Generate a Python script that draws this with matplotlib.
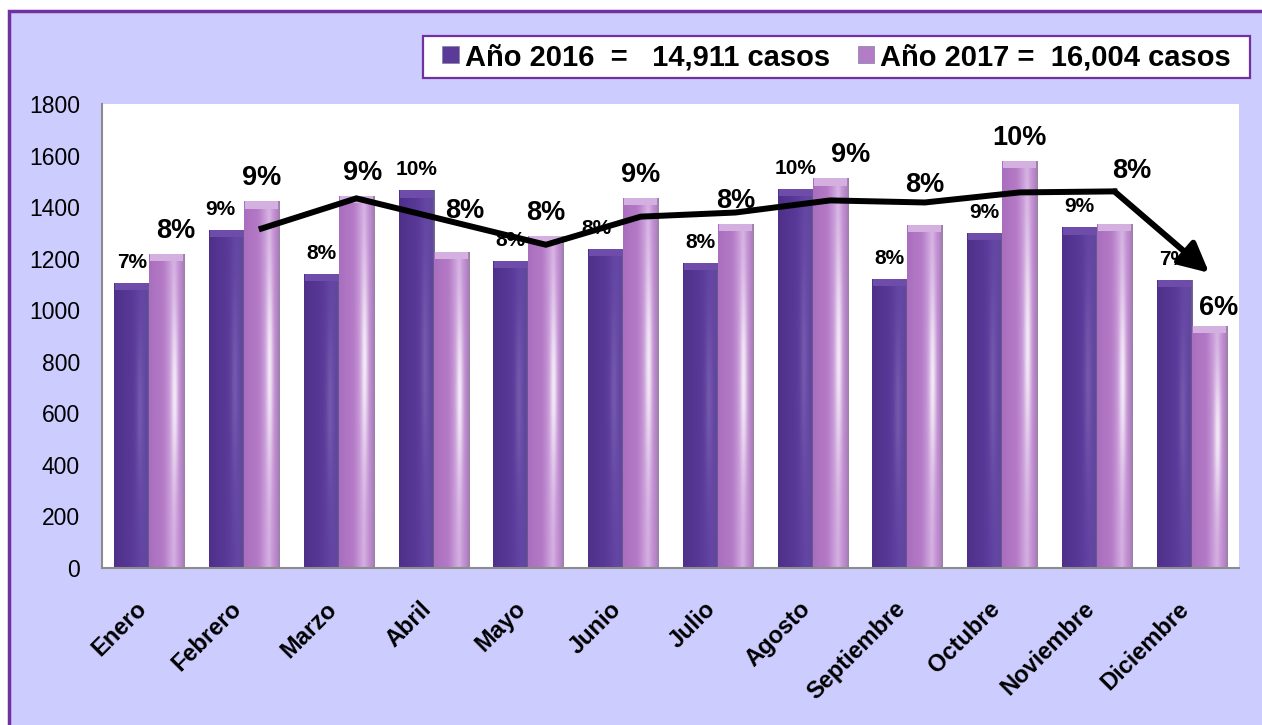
import matplotlib
matplotlib.use("Agg")
import matplotlib.pyplot as plt
import matplotlib.transforms as mtransforms
from matplotlib.patches import Rectangle
import numpy as np

plt.rcParams['font.family'] = ['Liberation Sans', 'DejaVu Sans']

meses = ['Enero', 'Febrero', 'Marzo', 'Abril', 'Mayo', 'Junio', 'Julio',
         'Agosto', 'Septiembre', 'Octubre', 'Noviembre', 'Diciembre']
casos_2016 = [1106, 1313, 1141, 1465, 1192, 1239, 1184, 1472, 1122, 1301, 1321, 1118]
casos_2017 = [1219, 1422, 1445, 1227, 1286, 1437, 1336, 1511, 1332, 1578, 1336, 939]
pct_2016 = ['7%', '9%', '8%', '10%', '8%', '8%', '8%', '10%', '8%', '9%', '9%', '7%']
pct_2017 = ['8%', '9%', '9%', '8%', '8%', '9%', '8%', '9%', '8%', '10%', '8%', '6%']
totales = [14911, 16004]
# tendencia dibujada a mano sobre las barras de 2017
tend_mes = [1, 2, 4, 5, 6, 7, 8, 9, 10, 11]
tend_val = [1317, 1434, 1254, 1363, 1379, 1426, 1418, 1457, 1461, 1145]

# desplazamientos de etiquetas (px) donde el original no las centra
off_2016 = {1: (-6, 0), 5: (-9, 0)}
off_2017 = {0: (9, 0), 2: (6, 0), 3: (14, 18), 7: (20, 0), 8: (0, 17), 10: (17, 30), 11: (9, -5)}

W, H = 1262, 725
fig = plt.figure(figsize=(W / 100, H / 100), dpi=100, facecolor='white')

# marco lila con borde morado
fig.patches.append(Rectangle((9 / W, -0.1), 1.2, 1.1 - 11 / H, transform=fig.transFigure,
                             facecolor='#CCCCFF', edgecolor='#7030A0', lw=2.5, zorder=-10))

ax = fig.add_axes([102 / W, 1 - 568 / H, (1239 - 102) / W, (568 - 104) / H])
ax.set_facecolor('white')

x = np.arange(len(meses))
bw = 0.37


def grad_img(stops, glow, ny=80, nx=60):
    pos = [s[0] for s in stops]
    cols = np.array([s[1] for s in stops], dtype=float) / 255
    xs = np.linspace(0, 1, nx)
    row = np.stack([np.interp(xs, pos, cols[:, k]) for k in range(3)], axis=-1)
    img = np.repeat(row[None, :, :], ny, axis=0)
    ys = np.linspace(0, 1, ny)
    g = glow * np.exp(-((xs[None, :] - 0.72) / 0.09) ** 2) * np.exp(-((ys[:, None] - 0.55) / 0.28) ** 2)
    img = img + (1 - img) * g[:, :, None]
    return np.clip(img, 0, 1)


def glossy(bars, stops, glow, cap_color):
    img = grad_img(stops, glow)
    for b in bars:
        x0, w, h = b.get_x(), b.get_width(), b.get_height()
        im = ax.imshow(img, extent=(x0, x0 + w, 0, h), origin='lower', aspect='auto',
                       interpolation='bicubic', zorder=2)
        im.set_clip_path(b)
        cap = min(28, h)
        ax.bar(x0 + w / 2, cap, bw * 0.94, bottom=h - cap, color=cap_color, zorder=3, lw=0)


dark_stops = [(0, (78, 48, 138)), (0.45, (88, 56, 150)), (0.82, (100, 70, 165)),
              (0.95, (96, 72, 152)), (1, (120, 110, 145))]
light_stops = [(0, (170, 110, 190)), (0.4, (180, 122, 198)), (0.7, (212, 175, 226)),
               (0.8, (198, 150, 213)), (0.93, (182, 130, 200)), (1, (150, 130, 162))]

b16 = ax.bar(x - bw / 2, casos_2016, bw, color='#5B3A98', zorder=2, lw=0,
             label='Año 2016  =   {:,} casos'.format(totales[0]))
b17 = ax.bar(x + bw / 2, casos_2017, bw, color='#B27CC6', zorder=2, lw=0,
             label='Año 2017 =  {:,} casos'.format(totales[1]))
glossy(b16, dark_stops, 0.12, '#6E4DAA')
glossy(b17, light_stops, 0.75, '#D4B0E0')

for i in range(len(meses)):
    dx, dy = off_2016.get(i, (0, 0))
    ax.annotate(pct_2016[i], (x[i] - bw / 2, casos_2016[i]), xytext=(dx, 15 + dy),
                textcoords='offset pixels', ha='center', va='baseline',
                fontsize=15, fontweight='bold', zorder=6)
    dx, dy = off_2017.get(i, (0, 0))
    ax.annotate(pct_2017[i], (x[i] + bw / 2, casos_2017[i]), xytext=(dx, 16 + dy),
                textcoords='offset pixels', ha='center', va='baseline',
                fontsize=19.5, fontweight='bold', zorder=6)

# linea de tendencia con flecha final
tx = [x[m] + bw / 2 for m in tend_mes]
ax.plot(tx[:-1], tend_val[:-1], color='black', lw=4.3, solid_joinstyle='miter', zorder=5)
ax.annotate('', xy=(tx[-1], tend_val[-1]), xytext=(tx[-2], tend_val[-2]),
            arrowprops=dict(arrowstyle='-|>,head_length=0.9,head_width=0.45', lw=4.3,
                            color='black', shrinkA=0, shrinkB=0, mutation_scale=20), zorder=5)

ax.set_xlim(-0.5, 11.5)
ax.set_ylim(0, 1800)
ax.set_yticks(range(0, 1801, 200))
ax.tick_params(axis='y', length=0, pad=16, labelsize=16.5)
ax.set_xticks(x)
ax.set_xticklabels(meses, rotation=45, ha='right', va='center', rotation_mode='anchor',
                   fontsize=17, fontweight='bold')
ax.tick_params(axis='x', length=0, pad=27)
shift = mtransforms.ScaledTranslation(-6 / 100, 0, fig.dpi_scale_trans)
for lab in ax.get_xticklabels():
    lab.set_transform(lab.get_transform() + shift)

for s in ['top', 'right']:
    ax.spines[s].set_visible(False)
for s in ['left', 'bottom']:
    ax.spines[s].set_color('#8C8C8C')
    ax.spines[s].set_linewidth(1.5)

# caja de la leyenda
fig.patches.append(Rectangle((423 / W, 1 - 78 / H), (1250 - 423) / W, 42 / H,
                             transform=fig.transFigure, facecolor='white',
                             edgecolor='#7030A0', lw=1.6, zorder=1))
leg = fig.legend(handles=[b16, b17], loc='center', bbox_to_anchor=((423 + 1250) / 2 / W, 1 - 57 / H),
                 ncol=2, frameon=False, prop=dict(size=21, weight='bold'),
                 handlelength=0.58, handleheight=0.55, handletextpad=0.2,
                 columnspacing=0.95, borderpad=0, borderaxespad=0)
for h in leg.legend_handles:
    h.set_edgecolor('#8080A0')
    h.set_linewidth(0.5)

fig.savefig('out.png', dpi=100, facecolor=fig.get_facecolor())
